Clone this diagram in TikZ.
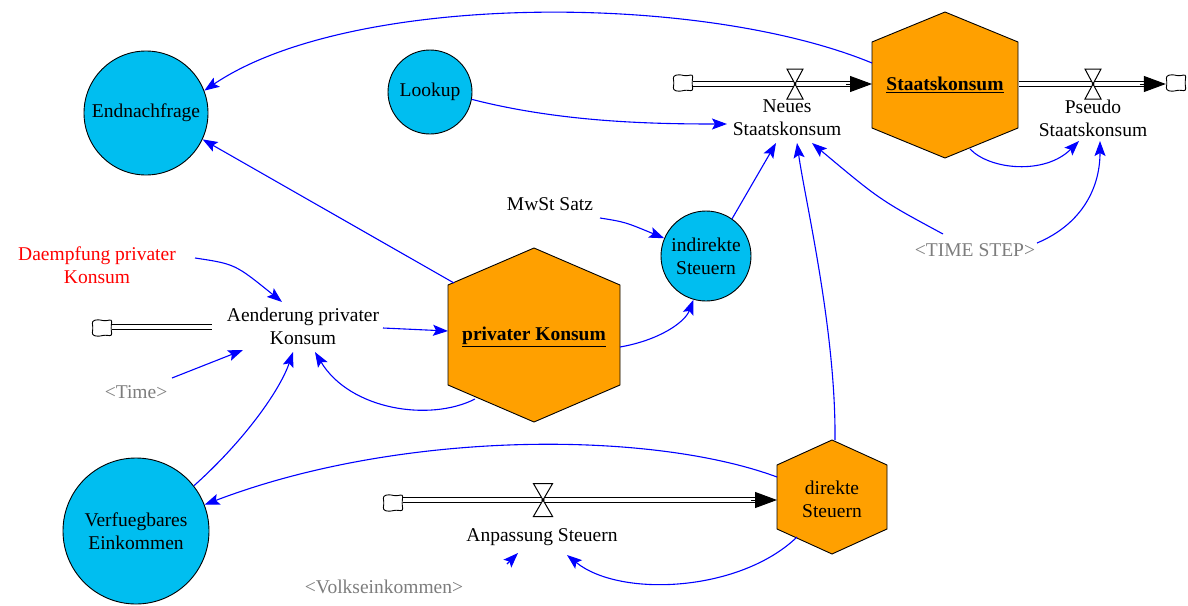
\documentclass[tikz,border=0pt]{standalone}
\usepackage{fontspec}
\setmainfont{Liberation Serif}
\usetikzlibrary{arrows.meta,calc}

\definecolor{stockorange}{RGB}{255,160,0}
\definecolor{auxcyan}{RGB}{0,190,240}
\definecolor{linkblue}{RGB}{0,0,255}
\definecolor{shadowgray}{RGB}{125,125,125}
\definecolor{constred}{RGB}{255,0,0}

% stock drawn as a hexagon with pointed top and bottom
% #1 cx, #2 cy, #3 half width, #4 half height, #5 half side height
\newcommand{\stockhex}[5]{%
  \draw[fill=stockorange, line width=0.9pt]
    (#1,#2-#4) -- (#1+#3,#2-#5) -- (#1+#3,#2+#5) -- (#1,#2+#4)
    -- (#1-#3,#2+#5) -- (#1-#3,#2-#5) -- cycle;}

\tikzset{
  every node/.style={font=\fontsize{19.5}{23}\selectfont, align=center, inner sep=0pt},
  auxcircle/.style={circle, draw=black, fill=auxcyan, line width=0.9pt},
  ghost/.style={text=shadowgray},
  link/.style={draw=linkblue, line width=1.1pt,
    -{Stealth[length=15pt,width=11pt,inset=3pt]}},
  pipe/.style={draw=black, double=white, double distance=3.5pt, line width=1.2pt},
  pipetip/.style={line width=1pt, -{Triangle[length=22pt,width=16pt]}},
  cloudbox/.style={rectangle, minimum width=20pt, minimum height=17pt},
  cloudpic/.pic={\draw[fill=white, line width=0.9pt, rounded corners=2.5pt]
      (-10,-7) -- (-4,-8.5) -- (3,-7) -- (10,-8.5) -- (9,0) -- (10,8)
      -- (3,7) -- (-4,8.5) -- (-10,7) -- (-9,0) -- cycle;},
  valve/.pic={\draw[fill=white, line width=1pt]
      (-8,-15) -- (8,-15) -- (-8,15) -- (8,15) -- cycle;
    \fill (0,0) circle (1.5pt);},
}

\begin{document}
\begin{tikzpicture}[x=1pt,y=-1pt]
\useasboundingbox[fill=white] (0,0) rectangle (1188,605);

% ---- stocks ----
\stockhex{945}{85}{73}{73}{43}
\node (sk) at (945,85) {\textbf{\underline{Staatskonsum}}};
\stockhex{534}{335}{86}{87}{50}
\node (pk) at (534,337) {\textbf{\underline{privater Konsum}}};
\stockhex{832}{497}{55}{57}{32}
\node (ds) at (832,499) {direkte\\Steuern};

% ---- auxiliaries ----
\node[auxcircle, minimum size=124pt] (endn) at (146,113) {Endnachfrage};
\node[auxcircle, minimum size=84pt] (lookup) at (430,92) {Lookup};
\node[auxcircle, minimum size=90pt] (ind) at (706,256) {indirekte\\Steuern};
\node[auxcircle, minimum size=146pt] (ve) at (136,531) {Verfuegbares\\Einkommen};

% ---- plain variables ----
\node (mwst) at (550,204) {MwSt Satz};
\node[text=constred] (dp) at (97,265) {Daempfung privater\\Konsum};
\node[ghost] (time) at (136,392) {<Time>};
\node[ghost] (ts) at (975,250) {<TIME STEP>};
\node[ghost] (vk) at (384,587) {<Volkseinkommen>};

% ---- flow rates ----
\node (ae) at (303,326) {Aenderung privater\\Konsum};
\node (ns) at (787,118) {Neues\\Staatskonsum};
\node (ps) at (1093,118) {Pseudo\\Staatskonsum};
\node (an) at (542,537) {Anpassung Steuern};

% ---- sources and sinks ----
\node[cloudbox] (c1) at (102,328) {};
\node[cloudbox] (c2) at (683,83) {};
\node[cloudbox] (c3) at (1176,83) {};
\node[cloudbox] (c4) at (393,503) {};
\foreach \c in {c1,c2,c3,c4} {\pic at (\c) {cloudpic};}

\coordinate (aeP) at (212,327);
\coordinate (skW) at (872,84);
\coordinate (skE) at (1019,84);
\coordinate (dsW) at (777,500);
\coordinate (v1) at (795,84);
\coordinate (v2) at (1093,84);
\coordinate (v3) at (543,500);

% ---- pipes ----
\draw[pipe] (c1.east |- aeP) -- (aeP);
\draw[pipe] (c2.east |- skW) -- ($(skW)+(-20,0)$);
\draw[pipetip] ($(skW)+(-26,0)$) -- (skW);
\draw[pipe] (skE) -- ($(c3.west |- skE)+(-18,0)$);
\draw[pipetip] ($(c3.west |- skE)+(-26,0)$) -- (c3.west |- skE);
\draw[pipe] (c4.east |- dsW) -- ($(dsW)+(-20,0)$);
\draw[pipetip] ($(dsW)+(-26,0)$) -- (dsW);
\pic at (v1) {valve};
\pic at (v2) {valve};
\pic[xscale=1.2, yscale=1.1] at (v3) {valve};

% ---- information links ----
\draw[link] ($(sk)+(-73,-22)$) .. controls (700,-8) and (350,-8) .. (endn.21);
\draw[link] ($(pk)+(-80,-54)$) -- (endn.-25);
\draw[link] (lookup.-10) .. controls (560,122) and (650,124) .. ($(ns)+(-60,6)$);
\draw[link] ($(mwst)+(50,14)$) .. controls (625,222) .. (ind.157);
\draw[link] ($(pk)+(86,10)$) .. controls (660,340) and (685,322) .. (ind.-106);
\draw[link] (ind.55) -- ($(ns)+(-11,25)$);
\draw[link] ($(ds)+(3,-59)$) .. controls (836,330) and (805,200) .. ($(ns)+(10,25)$);
\draw[link] ($(ts)+(-32,-16)$) .. controls (880,200) .. ($(ns)+(25,25)$);
\draw[link] ($(sk)+(25,64)$) .. controls (990,170) and (1045,175) .. ($(ps)+(-14,23)$);
\draw[link] ($(ts)+(62,-7)$) .. controls (1080,225) and (1100,190) .. ($(ps)+(7,23)$);
\draw[link] ($(dp)+(98,-7)$) .. controls (235,264) .. ($(ae)+(-21,-24)$);
\draw[link] ($(ae)+(80,2)$) -- ($(pk)+(-86,-6)$);
\draw[link] ($(time)+(36,-14)$) -- ($(ae)+(-60,24)$);
\draw[link] (ve.38) .. controls (245,440) and (280,390) .. ($(ae)+(-10,26)$);
\draw[link] ($(pk)+(-59,62)$) .. controls (430,422) and (350,410) .. ($(ae)+(12,26)$);
\draw[link] ($(ds)+(-55,-22)$) .. controls (650,430) and (400,430) .. (ve.21);
\draw[link] ($(ds)+(-35,38)$) .. controls (740,592) and (620,598) .. ($(an)+(25,18)$);
\draw[link] ($(vk)+(123,-23)$) -- ($(an)+(-24,16)$);
\end{tikzpicture}
\end{document}
